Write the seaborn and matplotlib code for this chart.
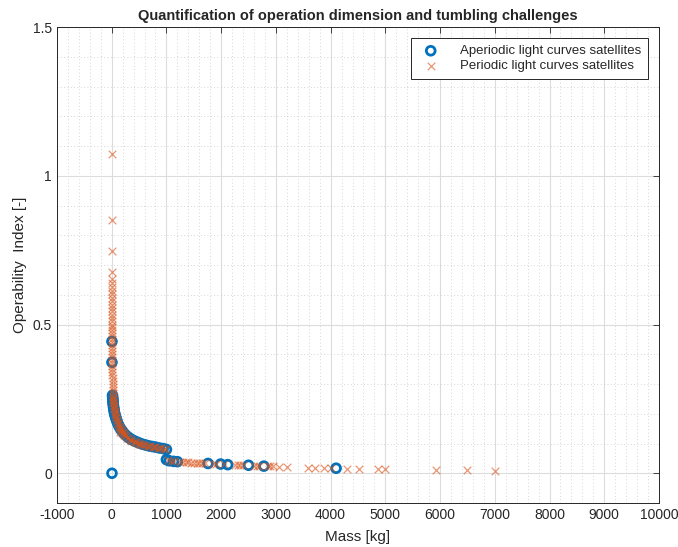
import matplotlib
matplotlib.use("Agg")
import matplotlib.pyplot as plt
import seaborn as sns
import pandas as pd
from matplotlib.ticker import MultipleLocator

# ---- data ----
periodic_mass = [3, 4, 3, 4, 3, 5, 4, 5, 6, 5, 6, 7, 6, 7, 8, 7, 8, 9, 8, 9, 10, 9, 10, 11,
                 10, 11, 12, 11, 12, 13, 12, 13, 14, 13, 14, 15, 16, 15, 17, 18, 19, 20,
                 22, 25, 28, 30, 33, 36, 40, 44, 48, 52, 57, 62, 68, 75, 82, 90, 100, 110,
                 120, 135, 150, 165, 180, 200, 220, 245, 270, 300, 330, 360, 400, 440, 480,
                 520, 560, 600, 650, 700, 750, 800, 850, 900, 950, 990,
                 130, 160, 190, 230, 280, 350, 420, 500, 580, 680, 780, 880,
                 1030, 1080, 1130, 1250, 1300, 1350, 1400, 1450, 1500, 1550, 1600, 1650,
                 1700, 1850, 1900, 2050, 2250, 2300, 2350, 2400, 2600, 2650, 2700, 2850,
                 2900, 2950, 3050, 3200, 3580, 3720, 3870, 4000, 4300, 4520, 4870, 5000,
                 5920, 6500, 7000]
periodic_index = [1.072, 0.851, 0.746, 0.676, 0.652, 0.638, 0.626, 0.612, 0.601, 0.590, 0.578,
                  0.566, 0.555, 0.544, 0.533, 0.522, 0.511, 0.500, 0.490, 0.480, 0.470, 0.460,
                  0.450, 0.440, 0.430, 0.420, 0.410, 0.400, 0.390, 0.380, 0.370, 0.360, 0.350,
                  0.340, 0.330, 0.320, 0.310, 0.300, 0.290, 0.280, 0.270, 0.260,
                  0.255, 0.250, 0.245, 0.240, 0.235, 0.230, 0.225, 0.220, 0.215, 0.210, 0.205,
                  0.200, 0.195, 0.190, 0.185, 0.180, 0.175, 0.170, 0.165, 0.160, 0.155, 0.150,
                  0.145, 0.140, 0.135, 0.130, 0.125, 0.120, 0.116, 0.113, 0.109, 0.105, 0.102,
                  0.099, 0.097, 0.095, 0.093, 0.091, 0.089, 0.087, 0.086, 0.084, 0.083, 0.081,
                  0.150, 0.140, 0.135, 0.128, 0.120, 0.110, 0.104, 0.098, 0.094, 0.090, 0.087,
                  0.084,
                  0.044, 0.042, 0.041, 0.039, 0.038, 0.037, 0.037, 0.036, 0.036, 0.035, 0.035,
                  0.034, 0.034, 0.032, 0.032, 0.030, 0.029, 0.028, 0.028, 0.027, 0.026, 0.025,
                  0.025, 0.024, 0.023, 0.023, 0.022, 0.021, 0.019, 0.019, 0.018, 0.017, 0.016,
                  0.015, 0.014, 0.013, 0.012, 0.011, 0.009]

aperiodic_mass = [5, 5, 5, 15, 18, 20, 22, 25, 27, 30, 33, 36, 40, 45, 50, 55, 62, 70, 78, 88,
                  100, 115, 130, 150, 175, 200, 230, 270, 310, 350, 400, 450, 500, 560, 620,
                  680, 740, 800, 870, 940, 1000, 1000, 1050, 1130, 1200, 1760, 1990, 2120,
                  2500, 2780, 4100]
aperiodic_index = [0.0, 0.443, 0.373, 0.262, 0.255, 0.250, 0.245, 0.240, 0.235, 0.230, 0.225,
                   0.220, 0.215, 0.210, 0.205, 0.200, 0.195, 0.190, 0.185, 0.180, 0.173, 0.166,
                   0.160, 0.153, 0.146, 0.140, 0.133, 0.126, 0.120, 0.115, 0.110, 0.106, 0.102,
                   0.098, 0.095, 0.092, 0.090, 0.088, 0.085, 0.083, 0.080, 0.046, 0.042, 0.040,
                   0.039, 0.033, 0.031, 0.029, 0.027, 0.024, 0.017]

x_ticks = [-1000, 0, 1000, 2000, 3000, 4000, 5000, 6000, 7000, 8000, 9000, 10000]
y_ticks = [0, 0.5, 1, 1.5]
y_tick_labels = ["0", "0.5", "1", "1.5"]

df_a = pd.DataFrame({"mass": aperiodic_mass, "idx": aperiodic_index})
df_p = pd.DataFrame({"mass": periodic_mass, "idx": periodic_index})

sns.set_style("white")
plt.rcParams["font.family"] = ["Liberation Sans", "DejaVu Sans"]

fig = plt.figure(figsize=(6.78, 5.47), dpi=100)
ax = fig.add_axes([0.084, 0.0804, 0.888, 0.8702])

blue = "#0072BD"
orange = "#D95319"

sns.scatterplot(data=df_a, x="mass", y="idx", ax=ax, marker="o", s=40,
                facecolor="none", edgecolor=blue, linewidth=2.0,
                label="Aperiodic light curves satellites", zorder=3)
sns.scatterplot(data=df_p, x="mass", y="idx", ax=ax, marker="x", s=30,
                color=orange, linewidth=0.9, alpha=0.6,
                label="Periodic light curves satellites", zorder=4)

ax.set_xlim(-1000, 10000)
ax.set_ylim(-0.1, 1.5)
ax.set_xticks(x_ticks)
ax.set_xticklabels([str(t) for t in x_ticks])
ax.set_yticks(y_ticks)
ax.set_yticklabels(y_tick_labels)
ax.xaxis.set_minor_locator(MultipleLocator(200))
ax.yaxis.set_minor_locator(MultipleLocator(0.1))

ax.grid(True, which="major", color="#dcdcdc", linewidth=0.8, linestyle="-")
ax.grid(True, which="minor", color="#c8c8c8", linewidth=0.6, linestyle=(0, (1, 3)))
ax.set_axisbelow(True)

ax.tick_params(which="major", direction="in", length=4, width=0.6, colors="#262626",
               top=True, right=True, labelsize=10)
ax.tick_params(which="minor", length=0, top=True, right=True)
for sp in ax.spines.values():
    sp.set_color("#262626")
    sp.set_linewidth(0.7)

ax.set_xlabel("Mass [kg]", fontsize=11, color="#262626", labelpad=6)
ax.set_ylabel("Operability  Index [-]", fontsize=11, color="#262626")
ax.set_title("Quantification of operation dimension and tumbling challenges",
             fontsize=10.5, fontweight="bold", pad=5)

leg = ax.legend(loc="upper right", fontsize=9.5, frameon=True, fancybox=False,
                edgecolor="#262626", framealpha=1, borderpad=0.5,
                handletextpad=1.2, labelspacing=0.2, bbox_to_anchor=(0.992, 0.99))
leg.get_frame().set_linewidth(0.7)

fig.savefig("out.png", dpi=100)
